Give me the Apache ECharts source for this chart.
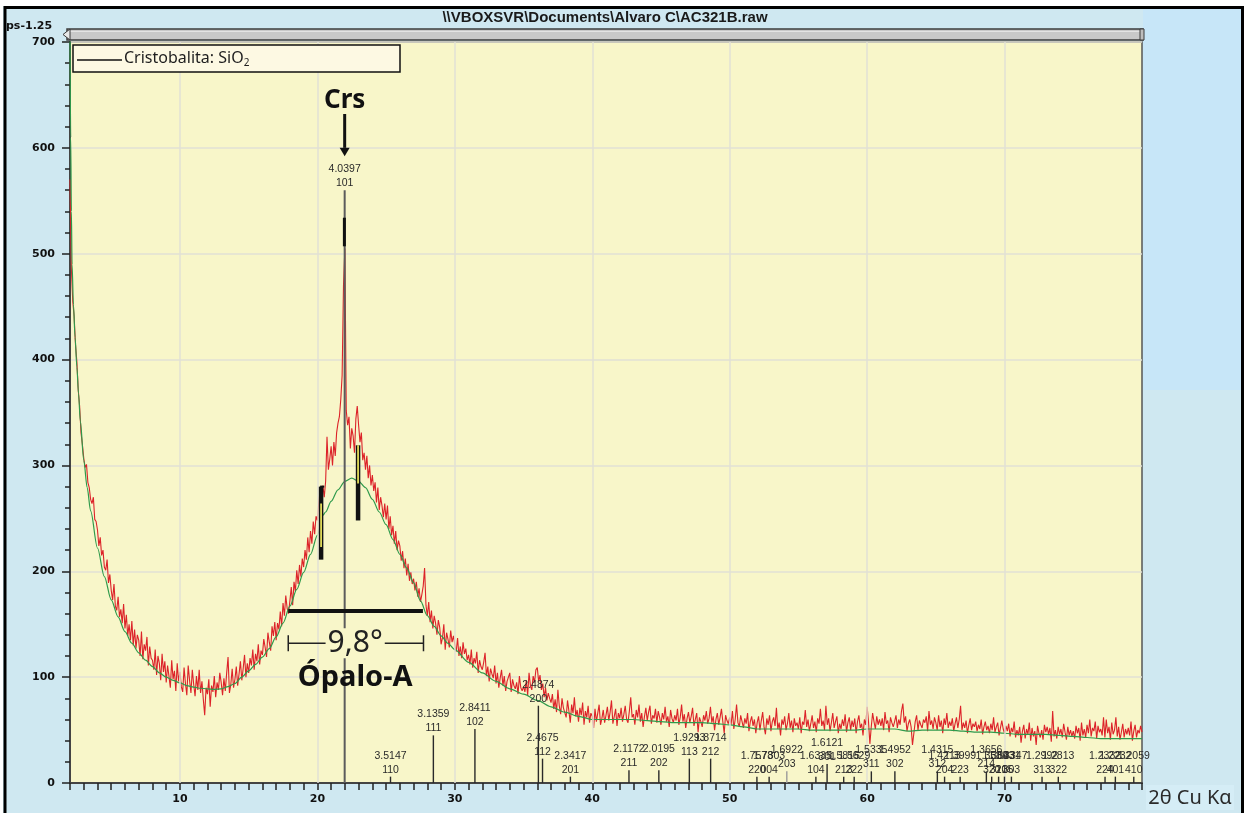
<!DOCTYPE html>
<html>
<head>
<meta charset="utf-8">
<title>AC321B.raw</title>
<script src="https://cdn.jsdelivr.net/npm/echarts@6/dist/echarts.min.js"></script>
<style>
  html, body { margin: 0; padding: 0; background: #ffffff; }
  #chart { width: 1244px; height: 813px; }
</style>
</head>
<body>
<div id="chart"></div>
<script>
// ---- Measured scan (2θ from 2.0° to 80.0°, 0.1° step), counts ----
const scanStart = 2.0;
const scanStep = 0.1;
const counts = [
  570, 486, 455, 441, 414, 398, 371, 356, 331, 320,
  307, 298, 301, 284, 279, 268, 264, 270, 249, 247,
  239, 224, 232, 215, 220, 204, 201, 211, 189, 197,
  182, 173, 188, 167, 163, 176, 157, 164, 151, 169,
  146, 159, 139, 150, 135, 153, 130, 145, 127, 140,
  135, 120, 143, 117, 131, 125, 138, 111, 129, 118,
  116, 107, 126, 102, 120, 113, 97, 122, 105, 115,
  95, 111, 101, 90, 116, 98, 106, 87, 113, 96,
  105, 91, 86, 109, 94, 83, 111, 97, 85, 107,
  93, 82, 101, 88, 107, 85, 96, 79, 64, 90,
  84, 98, 72, 92, 86, 101, 81, 95, 88, 104,
  95, 83, 99, 87, 104, 119, 85, 93, 108, 90,
  98, 110, 92, 103, 115, 97, 108, 121, 100, 113,
  104, 118, 111, 126, 107, 122, 115, 131, 112, 125,
  121, 136, 128, 119, 142, 133, 125, 148, 139, 152,
  135, 151, 145, 162, 148, 170, 158, 177, 165, 160,
  172, 185, 168, 190, 181, 201, 188, 206, 195, 212,
  204, 220, 211, 232, 218, 238, 226, 247, 235, 252,
  248, 265, 276, 262, 281, 270, 285, 327, 296, 306,
  318, 300, 322, 309, 331, 340, 346, 362, 385, 470,
  505, 352, 338, 346, 316, 335, 328, 312, 344, 356,
  338, 322, 331, 305, 312, 296, 309, 288, 300, 281,
  291, 276, 284, 265, 279, 258, 270, 262, 251, 264,
  249, 262, 240, 252, 234, 243, 226, 238, 220, 229,
  224, 210, 219, 203, 212, 196, 207, 191, 199, 188,
  193, 182, 190, 176, 184, 171, 178, 186, 203, 168,
  158, 171, 152, 163, 146, 158, 151, 140, 154, 147,
  131, 137, 150, 126, 142, 136, 128, 144, 133, 139,
  131, 124, 137, 120, 129, 118, 133, 122, 127, 116,
  121, 112, 126, 109, 118, 113, 124, 104, 116, 110,
  107, 114, 123, 101, 110, 96, 108, 103, 99, 111,
  94, 104, 90, 99, 107, 92, 101, 87, 96, 100,
  104, 86, 98, 92, 89, 95, 84, 101, 90, 87,
  91, 86, 97, 83, 104, 92, 88, 101, 95, 107,
  109, 96, 102, 88, 94, 81, 90, 78, 85, 80,
  76, 84, 70, 79, 67, 88, 73, 65, 80, 71,
  72, 62, 78, 68, 57, 74, 66, 81, 63, 69,
  58, 71, 64, 76, 55, 68, 62, 73, 57, 66,
  63, 52, 70, 58, 66, 74, 55, 61, 69, 57,
  64, 72, 59, 67, 78, 56, 63, 70, 54, 66,
  61, 71, 58, 65, 73, 60, 57, 68, 81, 62,
  65, 55, 69, 62, 74, 58, 66, 53, 63, 71,
  59, 67, 73, 56, 64, 61, 70, 57, 68, 62,
  55, 66, 60, 72, 58, 63, 53, 69, 61, 57,
  64, 59, 70, 55, 62, 74, 58, 65, 52, 61,
  67, 57, 63, 71, 54, 60, 66, 48, 62, 58,
  53, 64, 59, 68, 56, 61, 72, 57, 63, 50,
  60, 66, 55, 62, 70, 58, 47, 64, 59, 56,
  62, 55, 68, 51, 60, 74, 57, 53, 64, 58,
  52, 61, 56, 66, 49, 58, 63, 54, 60, 47,
  57, 63, 50, 59, 67, 53, 46, 61, 55, 64,
  49, 58, 62, 54, 71, 51, 57, 45, 60, 55,
  63, 50, 56, 66, 52, 59, 48, 61, 54, 57,
  51, 62, 47, 58, 55, 69, 53, 60, 49, 56,
  64, 52, 58, 48, 61, 56, 70, 54, 59, 50,
  73, 55, 61, 49, 57, 66, 52, 58, 63, 47,
  56, 51, 60, 54, 65, 48, 57, 62, 50, 59,
  53, 61, 47, 58, 64, 52, 56, 45, 60, 55,
  72, 58, 37, 53, 66, 58, 51, 63, 55, 60,
  54, 61, 50, 67, 56, 59, 48, 62, 57, 53,
  58, 64, 52, 60, 55, 68, 75, 57, 63, 49,
  56, 60, 53, 36, 47, 58, 64, 50, 59, 55,
  52, 60, 57, 63, 49, 68, 55, 59, 51, 62,
  57, 50, 64, 53, 59, 47, 61, 55, 66, 52,
  58, 54, 61, 49, 56, 62, 52, 60, 73, 50,
  57, 52, 59, 47, 55, 61, 50, 56, 53, 58,
  49, 55, 51, 60, 46, 53, 58, 50, 54, 47,
  56, 50, 62, 48, 53, 57, 45, 52, 59, 51,
  47, 54, 49, 56, 44, 52, 48, 58, 43, 50,
  45, 53, 38, 49, 55, 42, 51, 46, 57, 40,
  52, 44, 49, 36, 54, 47, 43, 50, 41, 55,
  48, 53, 46, 52, 39, 68, 44, 50, 42, 53,
  46, 51, 43, 56, 48, 41, 53, 45, 50, 44,
  49, 42, 54, 47, 52, 40, 57, 45, 51, 43,
  55, 47, 60, 44, 52, 49, 58, 42, 54, 48,
  51, 45, 62, 43, 60, 47, 53, 41, 57, 46,
  50, 62, 44, 53, 41, 48, 56, 43, 51, 46,
  52, 45, 58, 40, 49, 55, 43, 50, 47, 54,
  48
];

// ---- Fitted background (amorphous hump + low-angle scatter) ----
const backgroundAngles = [
  2.0, 2.05, 2.1, 2.15, 2.25, 2.37, 2.5, 2.62, 2.75, 3.0, 3.25, 3.5, 4.0, 4.5,
  5, 5.5, 6, 6.5, 7, 7.5, 8, 8.5, 9, 9.5, 10, 10.5, 11, 11.5, 12, 12.5, 13, 13.5,
  14, 14.5, 15, 15.5, 16, 16.5, 17, 17.5, 18, 18.5, 19, 19.5, 20, 20.4, 20.6, 21,
  21.5, 22, 22.5, 23, 23.5, 24, 24.5, 25, 25.5, 26, 26.5, 27, 27.5, 28, 28.5, 29,
  29.5, 30, 31, 32, 33, 34, 35, 36, 37, 38, 39, 40, 41, 42, 43, 44, 45, 46, 47, 48,
  49, 50, 51, 52, 53, 54, 55, 56, 57, 58, 59, 60, 61, 62, 63, 64, 65, 66, 67, 68,
  69, 70, 71, 72, 73, 74, 75, 76, 77, 78, 79, 80
];
const backgroundCounts = [
  712, 610, 540, 490, 452, 421, 393, 368, 342, 305, 279, 257, 222, 195,
  173, 157, 143, 132, 123, 116, 110, 104, 100, 97, 94.5, 92, 90.5, 89.5, 89, 88.5, 89, 91,
  94, 100, 106, 112, 119, 127, 138, 151, 167, 183, 199, 216, 234, 253, 256, 266,
  277, 285, 288, 285, 279, 268, 256, 244, 230, 216, 203, 189, 172, 158, 148, 139,
  132, 126, 114, 104, 96, 89, 84, 78, 72, 67, 63, 60, 60, 60, 60, 59, 58, 57, 57, 57,
  56, 55, 53, 51, 51, 51, 51, 50, 50, 50, 50, 51, 51, 51, 49, 50, 50, 50, 49, 48,
  48, 47, 46, 46, 46, 45, 44, 43, 42, 42, 42, 42
];

// ---- Cristobalita reference pattern: d-spacing (Å), hkl, relative stick height ----
const stickD = [
  '4.0397', '3.5147', '3.1359', '2.8411', '2.4874', '2.4675', '2.3417', '2.1172',
  '2.0195', '1.9293', '1.8714', '1.7578', '1.7303', '1.6922', '1.6335', '1.6121',
  '1.5815', '1.5629', '1.5335', '1.4952', '1.4315', '1.4213', '1.3999', '1.3656',
  '1.3589', '1.3503', '1.3431', '1.3347', '1.2992', '1.2813', '1.2332', '1.2232', '1.2059'
];
const stickHkl = [
  '101', '110', '111', '102', '200', '112', '201', '211',
  '202', '113', '212', '220', '004', '203', '104', '301',
  '213', '222', '311', '302', '312', '204', '223', '214',
  '320', '321', '105', '303', '313', '322', '224', '401', '410'
];
const stickHeights = [
  560, 6, 45, 51, 73, 23, 6, 12,
  12, 23, 23, 6, 6, 11, 6, 18,
  6, 6, 11, 11, 11, 6, 6, 11,
  6, 6, 6, 6, 6, 6, 6, 6, 6
];
const wavelength = 1.5406; // Cu Kα1, Å

// ---- Axis ticks ----
const xTickLabels = [10, 20, 30, 40, 50, 60, 70];
const xMinorTicks = [2,3,4,5,6,7,8,9,10,11,12,13,14,15,16,17,18,19,20,21,22,23,24,25,26,27,28,29,30,
  31,32,33,34,35,36,37,38,39,40,41,42,43,44,45,46,47,48,49,50,51,52,53,54,55,56,57,58,59,60,
  61,62,63,64,65,66,67,68,69,70,71,72,73,74,75,76,77,78,79,80];
const yTickLabels = [0, 100, 200, 300, 400, 500, 600, 700];

// ---- Build series data ----
const scanData = counts.map((c, i) => [+(scanStart + i * scanStep).toFixed(2), c]);
const backgroundData = backgroundAngles.map((a, i) => [a, backgroundCounts[i]]);
const braggTwoTheta = d => 2 * Math.asin(wavelength / (2 * parseFloat(d))) * 180 / Math.PI;
const stickAngles = stickD.map(braggTwoTheta);
const stickData = stickAngles.map((a, i) => [a, stickHeights[i]]);

const PLOT_BG = '#f8f6c9';
const GRID_LINE = '#e2e1d5';

const chart = echarts.init(document.getElementById('chart'), null, { renderer: 'canvas' });

chart.setOption({
  animation: false,
  backgroundColor: '#cfe8f1',
  grid: {
    left: 70, right: 102, top: 42, bottom: 30,
    show: true, backgroundColor: PLOT_BG, borderColor: '#555', borderWidth: 1.5
  },
  xAxis: {
    type: 'value', min: 2, max: 80,
    axisLine: { onZero: false, lineStyle: { color: '#444', width: 2 } },
    axisTick: { show: true, customValues: xMinorTicks, length: 7, lineStyle: { color: '#222', width: 1.5 } },
    axisLabel: {
      customValues: xTickLabels, margin: 11, color: '#111',
      fontFamily: 'DejaVu Sans', fontWeight: 'bold', fontSize: 11
    },
    splitLine: { show: false }
  },
  yAxis: {
    type: 'value', min: 0, max: 700, interval: 100,
    axisLine: { show: true, lineStyle: { color: '#444', width: 2 } },
    axisTick: { show: true, length: 8, lineStyle: { color: '#222', width: 1.5 } },
    minorTick: { show: true, splitNumber: 5, length: 5, lineStyle: { color: '#222', width: 1.5 } },
    axisLabel: {
      margin: 15, color: '#111', fontFamily: 'DejaVu Sans', fontWeight: 'bold', fontSize: 11,
      customValues: yTickLabels
    },
    splitLine: { show: true, lineStyle: { color: GRID_LINE, width: 1.5 } }
  },
  series: [
    {
      // vertical grid lines at the labelled 2θ values
      type: 'line', data: [], z: 1, silent: true,
      markLine: {
        silent: true, symbol: ['none', 'none'], label: { show: false },
        lineStyle: { color: GRID_LINE, width: 1.5, type: 'solid' },
        data: xTickLabels.map(v => ({ xAxis: v }))
      }
    },
    {
      name: 'scan', type: 'line', data: scanData, z: 3,
      showSymbol: false, symbol: 'none',
      lineStyle: { color: '#dc2329', width: 1.1 }
    },
    {
      name: 'background', type: 'line', data: backgroundData, z: 4,
      showSymbol: false, symbol: 'none', smooth: 0.3, smoothMonotone: 'x',
      lineStyle: { color: '#2f9a4c', width: 1.2 }
    },
    {
      name: 'Cristobalita', type: 'custom', data: stickData, z: 5,
      encode: { x: 0, y: 1 },
      renderItem: (params, api) => {
        const i = params.dataIndex;
        const base = api.coord([stickAngles[i], 0]);
        const top = api.coord([stickAngles[i], stickHeights[i]]);
        const major = i === 0;
        const font = '10.5px "Liberation Sans"';
        return {
          type: 'group',
          children: [
            {
              type: 'line',
              shape: { x1: base[0], y1: base[1], x2: top[0], y2: top[1] },
              style: { stroke: major ? '#5c5c5c' : (stickHkl[i] === '203' ? '#9a9a9a' : '#2a2a2a'), lineWidth: major ? 2 : 1.4 }
            },
            {
              type: 'text',
              style: { x: top[0], y: top[1] - 7, text: stickHkl[i], align: 'center', verticalAlign: 'middle', font, fill: '#2a2a2a' }
            },
            {
              type: 'text',
              style: { x: top[0], y: top[1] - 21, text: stickD[i], align: 'center', verticalAlign: 'middle', font, fill: '#2a2a2a' }
            }
          ]
        };
      }
    }
  ]
});

// ---- Window chrome, legend and annotations ----
const px = (x, y) => chart.convertToPixel({ gridIndex: 0 }, [x, y]);
const seg = (a, b, stroke, lineWidth) => ({
  type: 'line', z: 100, silent: true,
  shape: { x1: a[0], y1: a[1], x2: b[0], y2: b[1] },
  style: { stroke, lineWidth }
});

const graphics = [];

// outer frame
graphics.push({ type: 'rect', z: 50, silent: true, shape: { x: 0, y: 0, width: 1244, height: 6 }, style: { fill: '#ffffff' } });
graphics.push({ type: 'rect', z: 50, silent: true, shape: { x: 0, y: 0, width: 3, height: 813 }, style: { fill: '#ffffff' } });
graphics.push({ type: 'rect', z: 49, silent: true, shape: { x: 1143, y: 8, width: 98, height: 382 }, style: { fill: '#c7e6f8' } });
graphics.push({ type: 'rect', z: 49, silent: true, shape: { x: 1146, y: 785, width: 88, height: 25 }, style: { fill: '#d5edf6' } });
graphics.push({ type: 'polyline', z: 51, silent: true, shape: { points: [[5, 813], [5, 7.5], [1242.5, 7.5], [1242.5, 813]] }, style: { stroke: '#000', lineWidth: 3, fill: null } });

// file title
graphics.push({
  type: 'text', z: 52, silent: true,
  style: { x: 605, y: 17.5, text: '\\\\VBOXSVR\\Documents\\Alvaro C\\AC321B.raw', align: 'center', verticalAlign: 'middle',
    font: 'bold 15px "Liberation Sans"', fill: '#1a1a1a' }
});
// y-axis unit (partly off the left edge)
graphics.push({
  type: 'text', z: 52, silent: true,
  style: { x: 6, y: 26, text: 'ps-1.25', align: 'left', verticalAlign: 'middle', font: 'bold 11px "DejaVu Sans"', fill: '#111' }
});

// scroll bar above the plot
graphics.push({ type: 'rect', z: 52, silent: true, shape: { x: 67, y: 29, width: 1076, height: 11 }, style: { fill: '#c9c9c9', stroke: '#3c3c3c', lineWidth: 1.5 } });
graphics.push({ type: 'line', z: 53, silent: true, shape: { x1: 69, y1: 31.5, x2: 1141, y2: 31.5 }, style: { stroke: '#e4e4e4', lineWidth: 1 } });
graphics.push({ type: 'polygon', z: 53, silent: true, shape: { points: [[63, 34.5], [70, 29], [70, 40]] }, style: { fill: '#e8e8e8', stroke: '#3c3c3c', lineWidth: 1 } });
graphics.push({ type: 'rect', z: 53, silent: true, shape: { x: 1140, y: 29, width: 4, height: 11 }, style: { fill: '#bdbdbd', stroke: '#3c3c3c', lineWidth: 1 } });

// legend box
graphics.push({ type: 'rect', z: 60, silent: true, shape: { x: 73, y: 45, width: 327, height: 27 }, style: { fill: '#fdf9e3', stroke: '#111', lineWidth: 1.5 } });
graphics.push({ type: 'line', z: 61, silent: true, shape: { x1: 77, y1: 60, x2: 122, y2: 60 }, style: { stroke: '#111', lineWidth: 1.3 } });
graphics.push({
  type: 'text', z: 61, silent: true,
  style: {
    x: 124, y: 58, text: '{m|Cristobalita: SiO}{s|2}', align: 'left', verticalAlign: 'middle',
    rich: {
      m: { fontFamily: 'Noto Sans', fontSize: 16, fill: '#1e1e1e', color: '#1e1e1e' },
      s: { fontFamily: 'Noto Sans', fontSize: 10, fill: '#1e1e1e', color: '#1e1e1e', padding: [10, 0, 0, 0] }
    }
  }
});

// axis caption
graphics.push({
  type: 'text', z: 52, silent: true,
  style: { x: 1190, y: 798, text: '2θ Cu Kα', align: 'center', verticalAlign: 'middle', font: '20px "Noto Sans"', fill: '#2a2a2a' }
});

// Crs label with arrow pointing at the 101 reflection
const peak = stickAngles[0];
const crs = px(peak, 645);
graphics.push({ type: 'text', z: 100, silent: true, style: { x: crs[0], y: crs[1], text: 'Crs', align: 'center', verticalAlign: 'middle', font: 'bold 26px "Noto Sans"', fill: '#111' } });
const arrowTop = px(peak, 632), arrowBase = px(peak, 600), arrowTip = px(peak, 592);
graphics.push(seg(arrowTop, arrowBase, '#111', 3));
graphics.push({ type: 'polygon', z: 100, silent: true, shape: { points: [[arrowTip[0], arrowTip[1]], [arrowBase[0] - 5, arrowBase[1]], [arrowBase[0] + 5, arrowBase[1]]] }, style: { fill: '#111' } });

// peak marker on the 101 reflection
graphics.push(seg(px(peak - 0.02, 534), px(peak - 0.02, 507), '#111', 3));

// hump boundary markers
graphics.push(seg(px(20.27, 280), px(20.27, 211), '#111', 4.5));
graphics.push(seg(px(20.2, 280), px(20.5, 280), '#111', 2));
graphics.push(seg(px(20.27, 264), px(20.27, 223), '#e2dc5a', 1.8));
graphics.push(seg(px(22.96, 319), px(22.96, 248), '#111', 4.5));
graphics.push(seg(px(22.96, 319), px(22.96, 283), '#e2dc5a', 1.8));

// full width at half maximum of the amorphous hump
graphics.push(seg(px(17.88, 162.5), px(27.68, 162.5), '#111', 4));
const dimL = px(17.88, 132), dimR = px(27.72, 132);
graphics.push(seg(dimL, dimR, '#222', 1.5));
graphics.push(seg([dimL[0], dimL[1] - 8], [dimL[0], dimL[1] + 8], '#222', 1.5));
graphics.push(seg([dimR[0], dimR[1] - 8], [dimR[0], dimR[1] + 8], '#222', 1.5));
const dimText = px(22.75, 132);
graphics.push({
  type: 'text', z: 101, silent: true,
  style: { x: dimText[0], y: dimText[1], text: '9,8°', align: 'center', verticalAlign: 'middle', font: '30px "Noto Sans"', fill: '#222', backgroundColor: PLOT_BG, padding: [0, 2] }
});
const opalo = px(22.75, 99);
graphics.push({ type: 'text', z: 100, silent: true, style: { x: opalo[0], y: opalo[1], text: 'Ópalo-A', align: 'center', verticalAlign: 'middle', font: 'bold 29px "Noto Sans"', fill: '#111' } });

chart.setOption({ graphic: { elements: graphics } });
</script>
</body>
</html>
